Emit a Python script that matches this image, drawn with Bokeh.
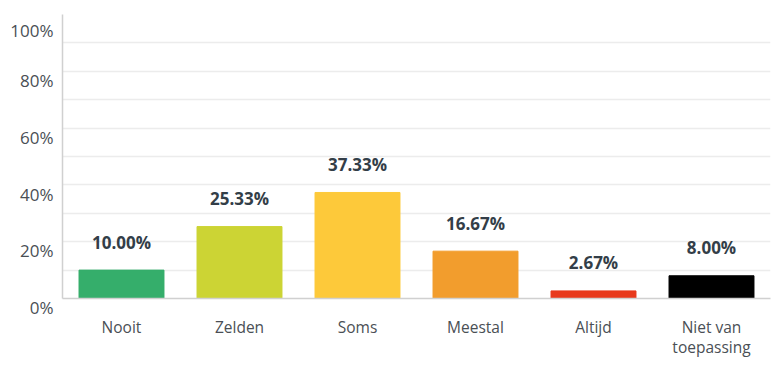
from bokeh.plotting import figure
from bokeh.models import Range1d, PrintfTickFormatter, ColumnDataSource, FixedTicker
from bokeh.core.properties import value
from bokeh.embed import file_html
from bokeh.resources import INLINE

categories = ["Nooit", "Zelden", "Soms", "Meestal", "Altijd", "Niet van\ntoepassing"]
values = [10.00, 25.33, 37.33, 16.67, 2.67, 8.00]
labels = ["10.00%", "25.33%", "37.33%", "16.67%", "2.67%", "8.00%"]
colors = ["#35ae6b", "#ccd434", "#fdc93a", "#f29d2d", "#e8391c", "#000000"]
y_ticks = [0, 20, 40, 60, 80, 100]
y_minor = [10, 30, 50, 70, 90]

FONT = "Open Sans"

src = ColumnDataSource(dict(cat=categories, val=values, lab=labels, col=colors))

p = figure(x_range=categories, width=777, height=366, output_backend="svg",
           toolbar_location=None, min_border_left=62, min_border_right=7,
           min_border_top=14, min_border_bottom=68)
p.y_range = Range1d(0, 100)
p.outline_line_color = None

p.vbar(x="cat", top="val", width=0.72, color="col", source=src)
p.text(x="cat", y="val", text="lab", source=src, y_offset=-28,
       text_align="center", text_baseline="middle",
       text_font=value(FONT), text_font_size="17px", text_font_style="bold",
       text_color="#333e48")

p.yaxis.ticker = FixedTicker(ticks=y_ticks, minor_ticks=y_minor)
p.yaxis.formatter = PrintfTickFormatter(format="\n%d%%")
p.yaxis.major_label_standoff = 9
p.yaxis.major_label_text_font_size = "17px"
p.yaxis.major_label_text_line_height = 0.8
p.xaxis.major_label_standoff = 17
p.xaxis.major_label_text_font_size = "15.5px"
p.xaxis.major_label_text_line_height = 0.95
for ax in (p.xaxis, p.yaxis):
    ax.axis_line_color = "#d0d0d0"
    ax.axis_line_width = 1.5
    ax.major_tick_in = 0
    ax.major_tick_out = 0
    ax.minor_tick_in = 0
    ax.minor_tick_out = 0
    ax.major_tick_line_color = None
    ax.minor_tick_line_color = None
    ax.major_label_text_font = FONT
    ax.major_label_text_color = "#4a4f55"

p.xgrid.grid_line_color = None
p.ygrid.grid_line_color = "#ececec"
p.ygrid.grid_line_width = 1.5
p.ygrid.minor_grid_line_color = "#ececec"
p.ygrid.minor_grid_line_width = 1.5

open("out.html", "w").write(file_html(p, INLINE))
